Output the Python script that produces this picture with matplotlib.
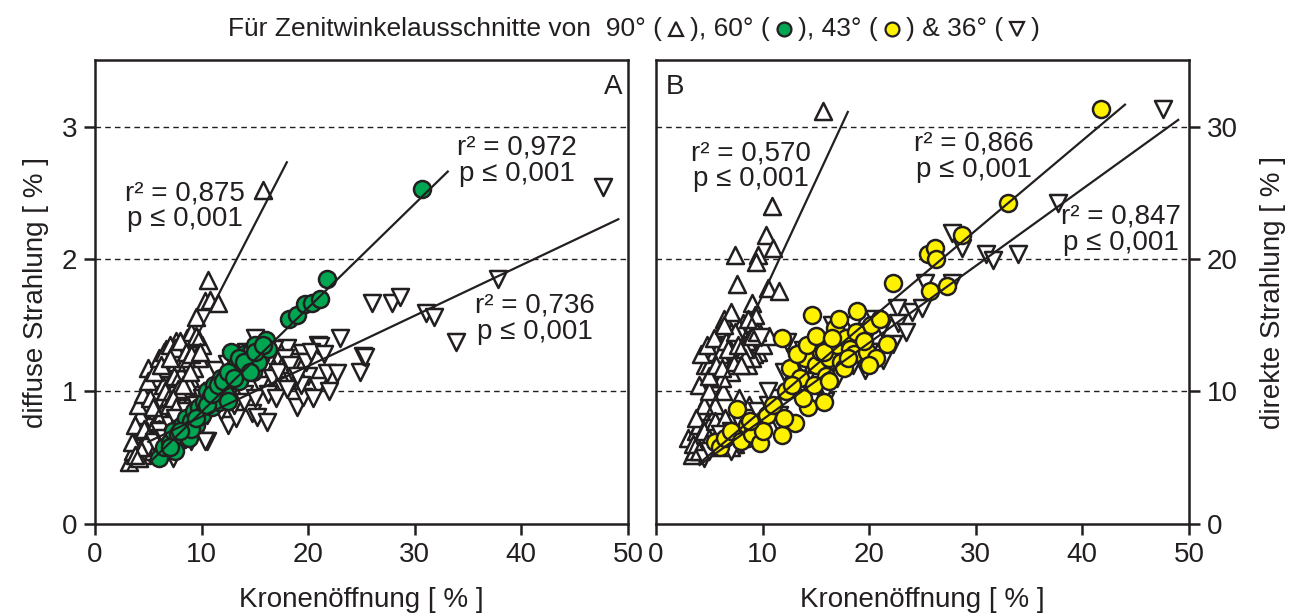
import numpy as np
import matplotlib
matplotlib.use('Agg')
from matplotlib import pyplot as plt
from matplotlib.lines import Line2D

plt.rcParams['font.family'] = ['Liberation Sans', 'DejaVu Sans']

# ---- panel A: diffuse radiation ----
a90_x = [3.2, 3.6, 4.0, 4.3, 4.5, 4.8, 5.0, 5.2, 5.5, 5.8,
         6.0, 6.2, 6.5, 6.8, 7.0, 7.2, 7.5, 7.8, 8.0, 8.3,
         4.2, 4.7, 5.1, 5.6, 6.1, 6.6, 7.1, 7.6, 8.1, 8.6,
         5.3, 5.9, 6.4, 6.9, 7.4, 7.9, 8.4, 8.9, 9.3, 9.8,
         4.4, 5.4, 6.3, 7.3, 8.2, 9.0, 9.5, 9.7, 10.3, 10.6,
         10.8, 11.5, 15.8, 6.7, 7.7, 10.0, 8.8, 5.0, 3.8, 9.2,
         5.6, 6.0, 6.4, 6.8, 7.2, 7.6, 8.0, 4.6, 5.2, 5.8,
         6.2, 6.6, 7.0, 7.4, 7.8, 3.5, 4.1, 4.8, 5.4, 8.5,
         4.0, 4.5, 5.0, 5.5, 6.0, 6.5, 7.0, 7.5, 8.0, 8.5,
         9.0, 9.5, 4.3, 4.9, 5.7, 6.3, 6.9, 7.3, 8.3, 8.9,
         5.2, 6.0, 6.8, 7.6, 3.8, 4.6, 5.4, 6.2, 7.0, 9.9]
a90_y = [0.47, 0.55, 0.62, 0.70, 0.58, 0.76, 0.66, 0.85, 0.72, 0.95,
         0.80, 1.02, 0.90, 1.12, 0.98, 1.20, 1.05, 1.28, 1.15, 1.32,
         0.82, 0.92, 1.00, 1.08, 1.15, 1.25, 1.30, 1.38, 1.22, 1.40,
         0.60, 0.68, 0.75, 0.82, 0.88, 0.95, 1.00, 1.10, 1.18, 1.25,
         0.52, 0.55, 0.62, 0.70, 0.85, 1.45, 1.56, 1.40, 1.68, 1.84,
         1.69, 1.67, 2.52, 1.32, 0.64, 1.35, 1.05, 1.18, 0.75, 0.92,
         1.00, 1.10, 1.05, 1.18, 1.10, 1.22, 1.30, 0.68, 0.78, 0.86,
         0.94, 1.00, 0.92, 1.12, 1.02, 0.62, 0.50, 0.60, 0.65, 1.25,
         0.90, 0.98, 1.08, 1.15, 1.25, 1.30, 1.35, 1.33, 1.38, 1.30,
         1.28, 1.42, 0.58, 0.70, 0.78, 0.84, 0.90, 0.95, 1.05, 1.15,
         0.95, 0.72, 0.78, 0.88, 0.52, 0.72, 0.88, 1.20, 1.25, 1.30]

a60_x = [6.0, 6.5, 7.0, 7.3, 7.8, 8.2, 8.5, 9.0, 9.3, 9.8,
         10.2, 10.5, 10.8, 11.2, 11.5, 11.8, 12.0, 12.3, 12.6, 13.0,
         13.3, 13.6, 14.0, 14.3, 14.6, 15.0, 15.5, 16.0, 16.2, 12.8,
         9.5, 10.0, 11.0, 11.6, 12.2, 13.5, 14.8, 18.2, 19.0, 19.7,
         20.4, 21.1, 21.8, 30.7, 7.5, 8.8, 15.3, 12.5,
         10.5, 11.0, 11.5, 12.0, 12.5, 13.0, 13.5, 14.0, 14.5, 15.0,
         15.8, 9.0, 9.5, 8.0, 7.0]
a60_y = [0.50, 0.58, 0.62, 0.70, 0.68, 0.75, 0.80, 0.78, 0.85, 0.88,
         0.92, 1.00, 0.95, 1.05, 0.98, 1.10, 1.02, 1.12, 1.08, 1.18,
         1.22, 1.15, 1.28, 1.20, 1.30, 1.35, 1.25, 1.39, 1.32, 1.30,
         0.75, 0.82, 0.88, 0.92, 0.98, 1.08, 1.15, 1.55, 1.58, 1.66,
         1.67, 1.70, 1.85, 2.53, 0.55, 0.65, 1.22, 0.93,
         0.90, 0.98, 1.05, 1.08, 1.15, 1.10, 1.25, 1.22, 1.15, 1.30,
         1.35, 0.72, 0.80, 0.70, 0.58]

a36_x = [5.0, 5.5, 6.0, 6.5, 7.0, 7.5, 8.0, 8.5, 9.0, 9.5,
         10.0, 10.5, 11.0, 11.4, 12.0, 12.4, 12.5, 13.0, 13.5, 14.0,
         14.7, 15.2, 15.5, 16.1, 16.5, 17.1, 17.5, 18.0, 18.5, 19.0,
         19.4, 19.5, 20.0, 20.9, 20.9, 21.1, 21.8, 22.7, 23.0, 24.9,
         25.1, 25.3, 26.0, 27.9, 28.6, 31.1, 31.8, 33.9, 37.8, 47.7,
         7.3, 10.3, 12.8, 14.2, 16.8, 18.8, 20.5, 11.8, 13.2, 15.0,
         13.5, 14.2, 14.8, 15.5, 16.0, 16.6, 17.2, 17.8, 18.3, 18.8,
         19.3, 19.8, 20.3, 21.5, 22.0, 12.5, 13.0, 14.0, 15.0, 16.2,
         17.0, 18.0, 19.0, 11.5, 10.5]
a36_y = [0.58, 0.62, 0.70, 0.65, 0.75, 0.80, 0.72, 0.85, 0.63, 0.90,
         0.95, 0.63, 1.00, 1.16, 0.92, 1.21, 0.75, 1.05, 1.10, 0.98,
         0.84, 0.81, 1.10, 0.77, 1.15, 1.25, 1.05, 1.33, 1.08, 0.88,
         1.29, 0.96, 1.12, 1.35, 1.04, 1.34, 1.14, 1.14, 1.40, 1.15,
         1.27, 1.26, 1.67, 1.67, 1.71, 1.59, 1.56, 1.37, 1.85, 2.54,
         0.50, 0.63, 1.25, 1.30, 1.32, 1.22, 0.95, 0.85, 0.80, 1.40,
         1.20, 1.15, 1.25, 1.05, 1.20, 1.10, 1.15, 1.25, 1.20, 1.10,
         1.05, 1.22, 1.30, 1.28, 1.00, 1.00, 0.90, 0.92, 0.95, 0.98,
         0.95, 1.02, 1.12, 0.90, 0.82]

# ---- panel B: direct radiation ----
b90_x = [3.0, 3.4, 3.8, 4.2, 4.5, 4.8, 5.0, 5.3, 5.6, 6.0,
         6.3, 6.6, 7.0, 7.3, 7.6, 8.0, 8.3, 8.6, 9.0, 9.4,
         4.0, 4.6, 5.2, 5.8, 6.4, 7.0, 7.6, 8.2, 8.8, 9.6,
         3.6, 4.4, 5.1, 5.9, 6.7, 7.4, 8.1, 9.2, 10.0, 10.6,
         9.0, 9.3, 10.5, 11.5, 7.6, 7.4, 9.6, 9.4, 10.3, 11.0,
         10.9, 15.7, 6.2, 5.5, 8.5, 7.8,
         5.0, 5.5, 6.0, 6.5, 7.0, 7.5, 8.0, 8.5, 9.0, 6.2,
         6.8, 7.2, 7.8, 8.4, 4.0, 4.5, 5.0, 3.8, 6.0, 7.0,
         4.2, 4.8, 5.4, 6.0, 6.6, 7.2, 7.8, 8.4, 9.0, 5.0,
         5.6, 6.2, 6.8, 7.4, 8.0, 8.6, 3.5, 4.0, 4.5, 5.0,
         5.5, 6.0, 6.5, 7.0, 7.5, 8.0, 8.7, 9.5, 6.4, 7.7]
b90_y = [6.5, 5.2, 7.0, 8.5, 6.0, 9.5, 7.5, 11.0, 8.5, 12.5,
         10.0, 13.0, 11.5, 14.0, 12.5, 13.2, 14.5, 12.0, 13.5, 15.0,
         10.5, 12.0, 13.5, 14.2, 15.5, 16.0, 13.8, 15.2, 14.0, 13.0,
         5.5, 6.2, 5.8, 7.0, 6.5, 6.0, 7.2, 12.8, 13.5, 14.2,
         16.7, 15.8, 17.8, 17.6, 18.1, 20.3, 20.3, 19.8, 21.8, 20.8,
         24.0, 31.2, 11.0, 9.0, 8.0, 9.5,
         12.0, 13.0, 13.5, 12.5, 14.5, 13.0, 14.0, 13.8, 12.5, 14.8,
         12.0, 13.6, 12.8, 13.2, 7.5, 9.0, 10.0, 8.0, 7.0, 8.0,
         12.8, 13.5, 14.0, 12.8, 13.8, 12.2, 14.8, 12.5, 14.2, 11.2,
         12.0, 11.8, 13.2, 14.5, 12.0, 15.5, 6.0, 5.5, 7.0, 6.5,
         7.8, 6.2, 8.0, 5.8, 7.0, 6.5, 9.0, 14.5, 15.0, 13.5]

b43_x = [5.5, 6.0, 6.5, 7.0, 7.6, 8.0, 8.5, 9.0, 9.8, 10.4,
         11.0, 11.8, 12.2, 12.6, 13.0, 13.5, 14.0, 14.3, 14.6, 15.0,
         15.5, 15.8, 16.2, 16.8, 17.0, 17.4, 17.8, 18.2, 18.6, 18.9,
         19.4, 19.8, 20.2, 20.6, 21.0, 21.7, 11.8, 13.8, 16.0, 17.6,
         22.2, 25.5, 25.7, 26.2, 26.3, 27.3, 28.7, 33.0, 41.8, 12.8,
         13.2, 14.2, 15.0, 15.8, 16.5, 17.2, 18.0, 18.8, 19.5, 20.0,
         14.8, 16.2, 12.0, 10.0, 8.8]
b43_y = [6.2, 5.8, 6.5, 7.0, 8.7, 6.3, 7.5, 6.8, 6.1, 8.2,
         9.0, 6.7, 10.0, 11.8, 7.6, 11.0, 12.5, 8.8, 15.8, 12.0,
         13.0, 9.2, 12.5, 14.8, 13.5, 12.2, 14.0, 13.2, 12.8, 16.1,
         14.2, 13.0, 15.0, 12.5, 15.5, 13.6, 14.0, 9.5, 11.2, 11.8,
         18.2, 20.4, 17.6, 20.8, 20.0, 18.0, 21.8, 24.2, 31.3, 10.5,
         12.8, 13.5, 14.2, 13.0, 14.0, 15.5, 12.5, 14.5, 13.8, 12.0,
         10.5, 10.8, 8.0, 7.0, 7.8]

b36_x = [4.5, 5.0, 5.5, 6.0, 6.5, 7.0, 7.5, 8.0, 8.5, 9.0,
         9.5, 9.9, 10.5, 11.0, 11.5, 12.3, 12.8, 13.3, 13.8, 14.2,
         14.8, 15.2, 15.6, 15.9, 16.0, 16.5, 17.0, 17.5, 18.0, 18.5,
         19.0, 19.6, 20.0, 20.5, 21.3, 22.2, 22.6, 22.7, 23.5, 24.0,
         25.0, 25.2, 27.8, 27.8, 28.7, 31.0, 31.6, 34.0, 37.7, 47.6,
         13.0, 13.8, 14.5, 15.2, 16.0, 16.8, 17.5, 18.2, 19.0, 19.8,
         20.5, 21.2, 14.0, 15.5, 17.0, 18.5, 20.0, 12.0, 10.5, 11.5,
         9.0, 8.0, 7.0, 6.0, 16.5]
b36_y = [5.0, 5.5, 6.0, 5.8, 6.5, 7.0, 6.2, 7.5, 8.0, 7.2,
         8.5, 14.1, 9.0, 9.5, 8.2, 13.7, 10.5, 11.0, 13.1, 12.0,
         12.5, 13.5, 11.8, 9.3, 10.1, 13.8, 12.8, 14.0, 13.0, 15.0,
         13.5, 11.6, 14.5, 13.0, 12.4, 13.6, 16.3, 15.2, 14.5, 16.0,
         16.3, 18.2, 18.2, 22.0, 20.8, 20.4, 19.9, 20.4, 24.2, 31.3,
         12.5, 12.0, 13.2, 12.8, 13.5, 13.0, 12.2, 13.8, 12.8, 14.2,
         15.5, 14.8, 10.8, 11.5, 11.0, 12.0, 13.0, 11.5, 10.0, 7.5,
         6.5, 6.0, 5.5, 6.8, 15.0]

# regression line end points
fitA90 = ([3.1, 18.0], [0.41, 2.73])
fitA60 = ([5.2, 33.1], [0.47, 2.66])
fitA36 = ([5.0, 49.1], [0.62, 2.30])
fitB90 = ([3.1, 18.0], [5.35, 31.1])
fitB43 = ([4.1, 44.0], [4.6, 31.65])
fitB36 = ([4.1, 49.0], [4.45, 30.5])

ink = '#231f20'
green = '#00a651'
yellow = '#fff200'

fig = plt.figure(figsize=(12.92, 6.15), dpi=100)
axA = fig.add_axes([0.0735, 0.148, 0.4125, 0.754])
axB = fig.add_axes([0.5077, 0.148, 0.4125, 0.754])

def up(ax, x, y):
    ax.scatter(x, y, marker='^', s=150, facecolor='white', edgecolor=ink, linewidth=1.8, zorder=3)

def down(ax, x, y):
    ax.scatter(x, y, marker='v', s=150, facecolor='white', edgecolor=ink, linewidth=1.8, zorder=4)

def dots(ax, x, y, c):
    ax.scatter(x, y, marker='o', s=150, facecolor=c, edgecolor=ink, linewidth=1.8, zorder=5)

up(axA, a90_x, a90_y)
down(axA, a36_x, a36_y)
dots(axA, a60_x, a60_y, green)
for fx, fy in (fitA90, fitA60, fitA36):
    axA.plot(fx, fy, color=ink, lw=1.6, zorder=6)

up(axB, b90_x, b90_y)
dots(axB, b43_x, b43_y, yellow)
down(axB, b36_x, b36_y)
for fx, fy in (fitB90, fitB43, fitB36):
    axB.plot(fx, fy, color=ink, lw=1.6, zorder=6)

for ax, top, step in ((axA, 3.5, 1), (axB, 35, 10)):
    ax.set_xlim(0, 50)
    ax.set_ylim(0, top)
    ax.set_xticks(range(0, 51, 10))
    ax.set_yticks([0, step, 2 * step, 3 * step])
    for k in (1, 2, 3):
        ax.axhline(k * step, color=ink, lw=1.0, ls=(0, (4, 3)), zorder=1)
    for sp in ax.spines.values():
        sp.set_linewidth(1.8)
        sp.set_color(ink)
    ax.tick_params(direction='out', length=8, width=1.8, color=ink,
                   labelsize=20, labelcolor=ink, pad=5)
    ax.set_xlabel('Kronenöffnung [ % ]', fontsize=20, color=ink, labelpad=14)

axA.set_ylabel('diffuse Strahlung [ % ]', fontsize=20, color=ink, labelpad=9)
axB.yaxis.tick_right()
axB.yaxis.set_label_position('right')
axB.set_ylabel('direkte Strahlung [ % ]', fontsize=20, color=ink, labelpad=16,
               rotation=90)

fs = 20
axA.text(8.4, 2.40, 'r² = 0,875\np ≤ 0,001', fontsize=fs, color=ink,
         ha='center', va='center', linespacing=1.0)
axA.text(39.6, 2.74, 'r² = 0,972\np ≤ 0,001', fontsize=fs, color=ink,
         ha='center', va='center', linespacing=1.0)
axA.text(41.3, 1.55, 'r² = 0,736\np ≤ 0,001', fontsize=fs, color=ink,
         ha='center', va='center', linespacing=1.0)
axA.text(48.6, 3.30, 'A', fontsize=fs, color=ink, ha='center', va='center')

axB.text(8.9, 27.0, 'r² = 0,570\np ≤ 0,001', fontsize=fs, color=ink,
         ha='center', va='center', linespacing=1.0)
axB.text(29.8, 27.7, 'r² = 0,866\np ≤ 0,001', fontsize=fs, color=ink,
         ha='center', va='center', linespacing=1.0)
axB.text(43.6, 22.2, 'r² = 0,847\np ≤ 0,001', fontsize=fs, color=ink,
         ha='center', va='center', linespacing=1.0)
axB.text(1.8, 33.0, 'B', fontsize=fs, color=ink, ha='center', va='center')

# title assembled from text pieces and marker symbols
pieces = ['Für Zenitwinkelausschnitte von  90° (', '^', '), 60° (', green,
          '), 43° (', yellow, ') & 36° (', 'v', ')']
renderer = fig.canvas.get_renderer()
fig_w = fig.get_figwidth() * fig.dpi
sym_w = 28.0
x = 228.0 / fig_w
ty = 0.953
for p in pieces:
    if p in ('^', 'v'):
        fig.add_artist(Line2D([x + sym_w / 2 / fig_w], [ty], marker=p, ms=10,
                              mfc='white', mec=ink, mew=1.6, ls='none',
                              transform=fig.transFigure))
        x += sym_w / fig_w
    elif p in (green, yellow):
        fig.add_artist(Line2D([x + sym_w / 2 / fig_w], [ty], marker='o', ms=10,
                              mfc=p, mec=ink, mew=1.6, ls='none',
                              transform=fig.transFigure))
        x += sym_w / fig_w
    else:
        t = fig.text(x, ty, p, fontsize=19, color=ink, ha='left', va='center')
        x += t.get_window_extent(renderer).width / fig_w

fig.savefig('out.png', dpi=100)
